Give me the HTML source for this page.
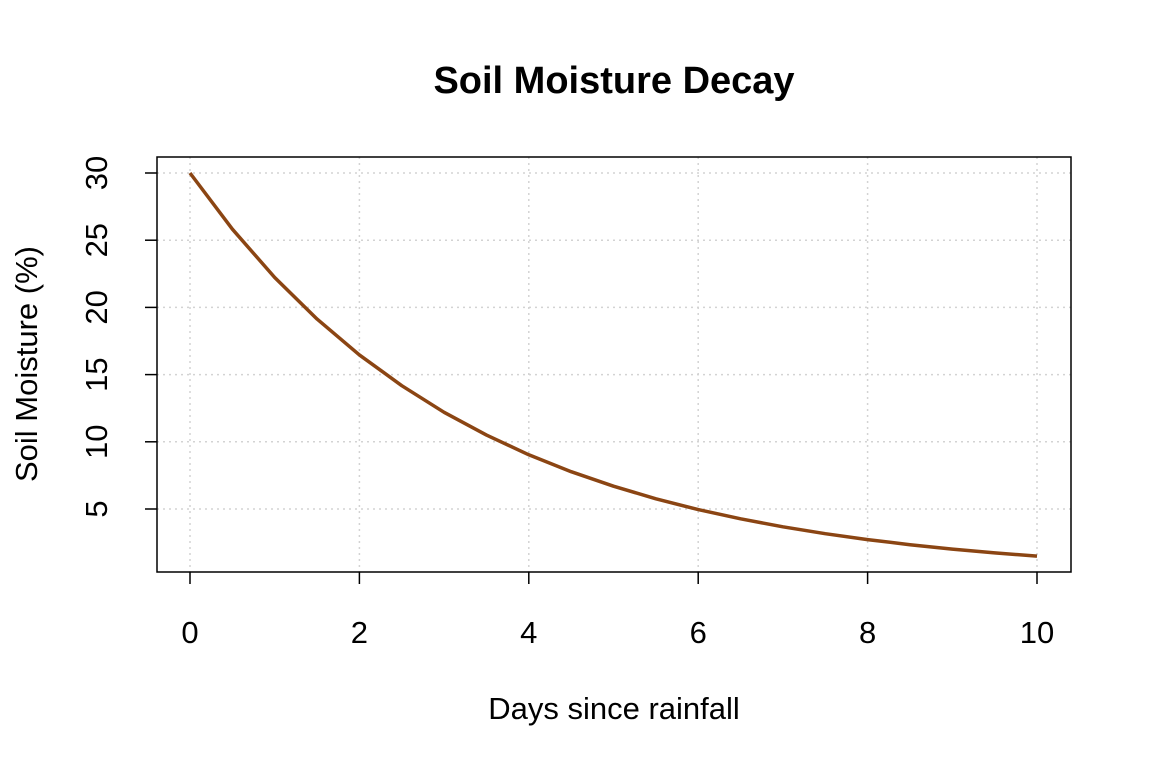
<!DOCTYPE html>
<html><head><meta charset="utf-8"><style>
html,body{margin:0;padding:0;background:#fff;}
svg{display:block;}
text{font-family:"Liberation Sans",Arial,sans-serif;fill:#000;}
</style></head><body>
<svg width="1152" height="768" viewBox="0 0 1152 768" xmlns="http://www.w3.org/2000/svg">
<rect width="1152" height="768" fill="#fff"/>
<text x="614" y="93" style="font-size:38px;font-weight:bold" text-anchor="middle">Soil Moisture Decay</text>
<g stroke="#d3d3d3" stroke-width="1.5" stroke-dasharray="2,4">
<line x1="190" y1="157" x2="190" y2="572"/>
<line x1="359.4" y1="157" x2="359.4" y2="572"/>
<line x1="528.8" y1="157" x2="528.8" y2="572"/>
<line x1="698.2" y1="157" x2="698.2" y2="572"/>
<line x1="867.6" y1="157" x2="867.6" y2="572"/>
<line x1="1037" y1="157" x2="1037" y2="572"/>
<line x1="157" y1="173" x2="1071" y2="173"/>
<line x1="157" y1="240.2" x2="1071" y2="240.2"/>
<line x1="157" y1="307.4" x2="1071" y2="307.4"/>
<line x1="157" y1="374.6" x2="1071" y2="374.6"/>
<line x1="157" y1="441.8" x2="1071" y2="441.8"/>
<line x1="157" y1="509" x2="1071" y2="509"/>
</g>
<polyline fill="none" stroke="#8B4513" stroke-width="3.5" stroke-linejoin="round" points="190,173 232.4,229.2 274.7,277.5 317.1,319.1 359.4,354.9 401.8,385.7 444.1,412.3 486.5,435.1 528.8,454.8 571.2,471.7 613.5,486.2 655.9,498.8 698.2,509.6 740.6,518.8 782.9,526.8 825.3,533.7 867.6,539.6 910,544.7 952.3,549.1 994.7,552.9 1037,556.1"/>
<rect x="157" y="157" width="914" height="415" fill="none" stroke="#000" stroke-width="1.5"/>
<g stroke="#000" stroke-width="1.5">
<line x1="190" y1="572" x2="190" y2="584"/>
<line x1="359.4" y1="572" x2="359.4" y2="584"/>
<line x1="528.8" y1="572" x2="528.8" y2="584"/>
<line x1="698.2" y1="572" x2="698.2" y2="584"/>
<line x1="867.6" y1="572" x2="867.6" y2="584"/>
<line x1="1037" y1="572" x2="1037" y2="584"/>
<line x1="145" y1="173" x2="157" y2="173"/>
<line x1="145" y1="240.2" x2="157" y2="240.2"/>
<line x1="145" y1="307.4" x2="157" y2="307.4"/>
<line x1="145" y1="374.6" x2="157" y2="374.6"/>
<line x1="145" y1="441.8" x2="157" y2="441.8"/>
<line x1="145" y1="509" x2="157" y2="509"/>
</g>
<g style="font-size:31px" text-anchor="middle">
<text x="190" y="643">0</text>
<text x="359.4" y="643">2</text>
<text x="528.8" y="643">4</text>
<text x="698.2" y="643">6</text>
<text x="867.6" y="643">8</text>
<text x="1037" y="643">10</text>
<text transform="translate(107,173) rotate(-90)">30</text>
<text transform="translate(107,240.2) rotate(-90)">25</text>
<text transform="translate(107,307.4) rotate(-90)">20</text>
<text transform="translate(107,374.6) rotate(-90)">15</text>
<text transform="translate(107,441.8) rotate(-90)">10</text>
<text transform="translate(107,509) rotate(-90)">5</text>
<text x="614" y="719">Days since rainfall</text>
<text transform="translate(37,364) rotate(-90)">Soil Moisture (%)</text>
</g>
</svg>
</body></html>
